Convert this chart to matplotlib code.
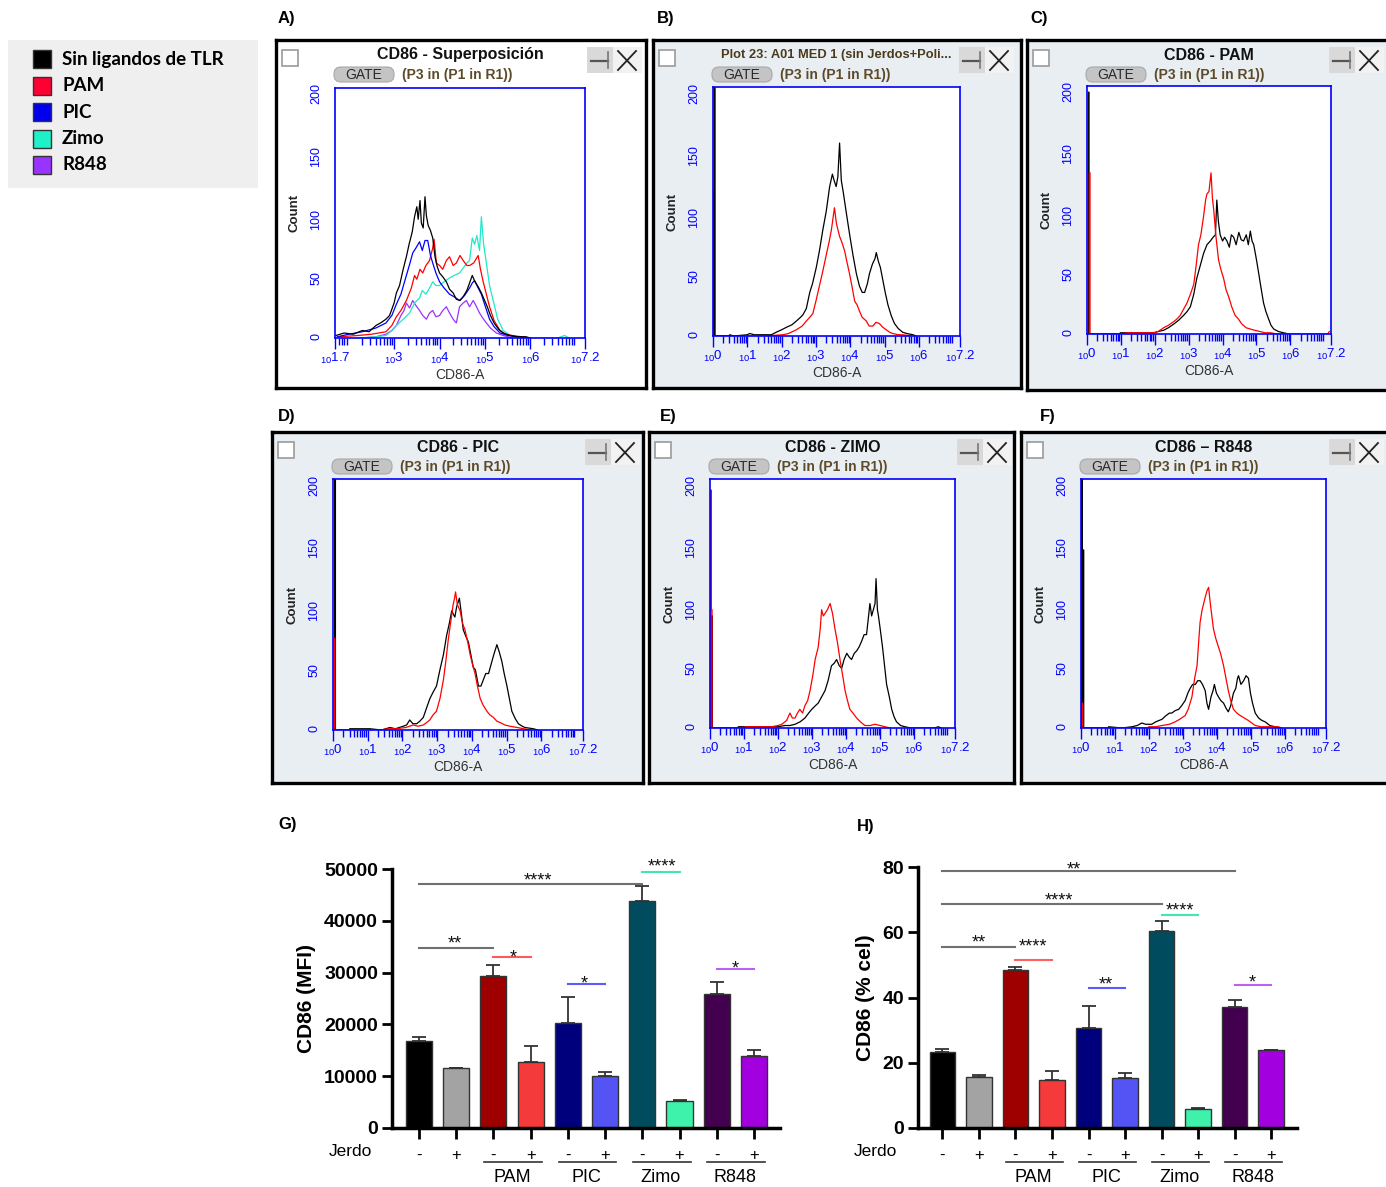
import numpy as np
import matplotlib
matplotlib.use('Agg')
import matplotlib.pyplot as plt
from matplotlib.patches import Rectangle, FancyBboxPatch
from matplotlib.ticker import LogLocator, NullFormatter
from matplotlib import transforms

plt.rcParams['font.family'] = ['Liberation Sans', 'DejaVu Sans']
plt.rcParams['mathtext.fontset'] = 'custom'
plt.rcParams['mathtext.rm'] = 'Liberation Sans'

W, H = 1386, 1187

# legend
legend_labels = ['Sin ligandos de TLR', 'PAM', 'PIC', 'Zimo', 'R848']
legend_colors = ['#000000', '#ff0033', '#0000ee', '#1ef0c8', '#9933ff']

# histograms, (log10 CD86-A, count)
a_black = [(1.72, 2), (1.9, 4), (2.1, 3), (2.3, 6), (2.45, 5), (2.6, 10), (2.7, 12), (2.82, 15), (2.9, 18), (3.0, 28),
           (3.05, 36), (3.12, 42), (3.2, 55), (3.27, 65), (3.33, 75), (3.4, 85), (3.45, 97), (3.5, 105), (3.53, 95), (3.57, 110),
           (3.6, 92), (3.64, 88), (3.68, 113), (3.71, 98), (3.75, 90), (3.8, 86), (3.85, 80), (3.9, 65), (3.95, 57), (4.0, 52),
           (4.07, 49), (4.15, 45), (4.22, 39), (4.3, 36), (4.37, 31), (4.45, 30), (4.52, 33), (4.6, 38), (4.66, 44), (4.72, 50),
           (4.78, 45), (4.85, 41), (4.92, 36), (4.98, 31), (5.05, 25), (5.12, 18), (5.2, 12), (5.3, 7), (5.4, 4), (5.55, 2),
           (5.7, 1), (5.9, 1), (6.0, 0)]
a_blue = [(1.75, 1), (2.0, 3), (2.3, 5), (2.6, 8), (2.82, 12), (2.95, 18), (3.05, 27), (3.15, 35), (3.27, 50), (3.35, 60),
          (3.41, 68), (3.48, 72), (3.56, 77), (3.62, 70), (3.68, 78), (3.74, 78), (3.8, 66), (3.85, 60), (3.92, 52), (4.0, 45),
          (4.1, 40), (4.22, 35), (4.32, 33), (4.44, 30), (4.55, 34), (4.66, 40), (4.72, 44), (4.77, 46), (4.85, 40), (4.92, 35),
          (5.0, 26), (5.1, 15), (5.2, 9), (5.33, 4), (5.5, 2), (5.7, 1), (5.9, 0)]
a_red = [(1.8, 1), (2.2, 2), (2.5, 3), (2.82, 5), (2.95, 10), (3.05, 17), (3.15, 22), (3.27, 30), (3.38, 40), (3.45, 50),
         (3.5, 47), (3.57, 55), (3.63, 52), (3.7, 58), (3.78, 62), (3.85, 72), (3.88, 79), (3.93, 60), (4.0, 58), (4.07, 55),
         (4.15, 62), (4.22, 65), (4.3, 58), (4.37, 60), (4.45, 66), (4.52, 62), (4.6, 58), (4.66, 58), (4.75, 60), (4.85, 66),
         (4.9, 55), (4.96, 45), (5.03, 35), (5.1, 25), (5.2, 14), (5.33, 6), (5.45, 3), (5.6, 2), (5.8, 1), (6.0, 0)]
a_cyan = [(2.2, 0), (2.6, 1), (2.82, 2), (2.95, 6), (3.05, 10), (3.2, 15), (3.34, 20), (3.45, 28), (3.56, 32), (3.62, 38),
          (3.7, 35), (3.78, 40), (3.85, 45), (3.92, 42), (4.0, 42), (4.1, 45), (4.22, 48), (4.32, 50), (4.44, 52), (4.52, 56),
          (4.6, 60), (4.66, 62), (4.72, 80), (4.77, 75), (4.82, 82), (4.88, 70), (4.92, 97), (4.97, 75), (5.03, 60), (5.1, 42),
          (5.18, 30), (5.28, 15), (5.4, 6), (5.52, 3), (5.62, 1), (5.9, 0), (6.6, 0), (6.75, 2), (6.85, 0)]
a_purple = [(2.3, 0), (2.6, 1), (2.82, 3), (2.95, 6), (3.05, 10), (3.15, 18), (3.22, 22), (3.27, 28), (3.34, 24), (3.41, 30),
            (3.48, 26), (3.56, 22), (3.63, 18), (3.71, 15), (3.78, 20), (3.85, 22), (3.92, 17), (4.0, 18), (4.07, 22), (4.15, 25),
            (4.22, 20), (4.3, 15), (4.37, 12), (4.44, 25), (4.52, 28), (4.59, 30), (4.66, 25), (4.74, 30), (4.8, 26), (4.88, 20),
            (4.95, 16), (5.03, 12), (5.12, 8), (5.25, 4), (5.4, 2), (5.6, 0)]

b_black = [(0.03, 0), (0.03, 200), (0.06, 200), (0.06, 0), (0.45, 0), (0.49, 1), (0.6, 0), (1.0, 1), (1.07, 2), (1.2, 1),
           (1.55, 1), (1.7, 1), (1.84, 3), (2.0, 5), (2.14, 7), (2.3, 9), (2.43, 12), (2.55, 15), (2.62, 17), (2.72, 22),
           (2.82, 35), (2.9, 42), (3.01, 55), (3.1, 68), (3.2, 85), (3.3, 100), (3.4, 120), (3.48, 130), (3.53, 125), (3.59, 120),
           (3.64, 128), (3.69, 155), (3.74, 125), (3.8, 115), (3.88, 100), (3.98, 82), (4.08, 65), (4.18, 50), (4.27, 40), (4.35, 35),
           (4.42, 35), (4.5, 42), (4.56, 50), (4.65, 58), (4.72, 62), (4.76, 67), (4.82, 60), (4.88, 55), (4.95, 45), (5.02, 35),
           (5.1, 25), (5.2, 16), (5.29, 10), (5.4, 6), (5.53, 3), (5.65, 2), (5.83, 1), (5.92, 0)]
b_red = [(0.02, 0), (0.02, 117), (0.04, 117), (0.04, 0), (1.5, 0), (2.04, 1), (2.2, 2), (2.43, 5), (2.6, 8), (2.72, 12),
         (2.82, 15), (2.91, 18), (3.0, 28), (3.1, 40), (3.2, 52), (3.3, 65), (3.38, 75), (3.45, 85), (3.5, 95), (3.54, 103),
         (3.6, 90), (3.69, 80), (3.76, 75), (3.84, 68), (3.9, 60), (3.98, 50), (4.05, 40), (4.13, 28), (4.2, 25), (4.27, 20),
         (4.35, 15), (4.47, 12), (4.55, 8), (4.66, 8), (4.75, 11), (4.85, 10), (4.95, 7), (5.05, 5), (5.15, 3), (5.24, 2),
         (5.4, 1), (5.53, 1), (5.8, 0)]

c_black = [(0.04, 0), (0.04, 195), (0.06, 195), (0.06, 0), (0.98, 0), (0.98, 1), (1.5, 1), (1.97, 1), (2.1, 2), (2.26, 3),
           (2.4, 5), (2.56, 8), (2.7, 11), (2.85, 15), (2.95, 18), (3.05, 22), (3.15, 32), (3.24, 45), (3.34, 55), (3.44, 65),
           (3.54, 72), (3.64, 75), (3.72, 78), (3.79, 80), (3.83, 108), (3.88, 90), (3.93, 80), (4.0, 75), (4.06, 78), (4.13, 75),
           (4.2, 70), (4.26, 80), (4.33, 78), (4.4, 72), (4.48, 82), (4.55, 76), (4.62, 75), (4.7, 80), (4.76, 72), (4.82, 83),
           (4.87, 75), (4.92, 72), (5.0, 60), (5.06, 50), (5.13, 38), (5.21, 25), (5.28, 18), (5.36, 12), (5.43, 7), (5.51, 4),
           (5.65, 2), (5.8, 1), (5.95, 0)]
c_red = [(0.07, 0), (0.07, 130), (0.09, 130), (0.09, 0), (1.0, 0), (1.2, 1), (1.97, 1), (2.1, 2), (2.26, 5), (2.4, 7),
         (2.56, 10), (2.65, 12), (2.75, 15), (2.85, 20), (2.95, 25), (3.05, 32), (3.15, 40), (3.22, 55), (3.29, 72), (3.36, 80),
         (3.44, 95), (3.5, 108), (3.54, 113), (3.6, 115), (3.66, 130), (3.7, 110), (3.74, 100), (3.8, 80), (3.88, 60), (3.95, 52),
         (4.03, 45), (4.1, 36), (4.18, 30), (4.27, 22), (4.37, 15), (4.47, 12), (4.57, 8), (4.7, 5), (4.82, 4), (4.95, 3),
         (5.11, 2), (5.25, 1), (5.41, 1), (5.6, 0), (7.1, 0), (7.15, 2)]

d_black = [(0.05, 0), (0.05, 200), (0.07, 200), (0.07, 0), (0.48, 0), (0.48, 1), (0.8, 1), (1.06, 1), (1.4, 0), (1.64, 2),
           (1.8, 1), (2.02, 3), (2.12, 4), (2.21, 8), (2.3, 5), (2.41, 5), (2.5, 7), (2.6, 10), (2.7, 18), (2.79, 25),
           (2.88, 30), (2.98, 35), (3.08, 48), (3.18, 60), (3.27, 75), (3.35, 85), (3.42, 95), (3.47, 92), (3.51, 90), (3.56, 98),
           (3.64, 105), (3.7, 92), (3.75, 80), (3.82, 75), (3.9, 70), (3.97, 60), (4.04, 50), (4.1, 48), (4.19, 35), (4.26, 35),
           (4.33, 40), (4.4, 45), (4.48, 45), (4.55, 52), (4.63, 60), (4.72, 68), (4.79, 62), (4.86, 55), (4.93, 45), (5.01, 35),
           (5.08, 25), (5.15, 15), (5.25, 9), (5.34, 5), (5.45, 3), (5.53, 2), (5.77, 1), (5.9, 0)]
d_red = [(0.03, 0), (0.03, 73), (0.05, 73), (0.05, 0), (1.35, 0), (1.6, 1), (1.83, 1), (2.1, 2), (2.31, 4), (2.45, 3),
         (2.6, 4), (2.7, 6), (2.79, 8), (2.88, 12), (2.98, 15), (3.08, 25), (3.18, 40), (3.25, 55), (3.32, 72), (3.4, 88),
         (3.46, 100), (3.5, 105), (3.53, 110), (3.58, 100), (3.66, 95), (3.73, 85), (3.8, 80), (3.88, 70), (3.95, 60), (4.02, 52),
         (4.09, 45), (4.16, 35), (4.24, 25), (4.32, 20), (4.43, 15), (4.52, 12), (4.62, 10), (4.72, 7), (4.81, 6), (4.95, 4),
         (5.1, 3), (5.3, 2), (5.49, 1), (5.7, 0)]

e_red = [(0.02, 0), (0.02, 191), (0.04, 191), (0.04, 95), (0.06, 95), (0.06, 0), (1.03, 0), (1.03, 1), (1.5, 1), (1.81, 1),
         (2.0, 2), (2.11, 3), (2.25, 6), (2.35, 12), (2.42, 8), (2.5, 8), (2.57, 12), (2.64, 15), (2.72, 12), (2.79, 18),
         (2.87, 22), (2.94, 30), (3.02, 42), (3.09, 55), (3.18, 65), (3.24, 80), (3.28, 95), (3.33, 90), (3.38, 92), (3.45, 95),
         (3.53, 100), (3.6, 92), (3.67, 80), (3.75, 68), (3.82, 55), (3.9, 42), (3.97, 30), (4.04, 22), (4.11, 15), (4.2, 12),
         (4.31, 8), (4.42, 5), (4.55, 2), (4.7, 2), (4.85, 3), (5.0, 2), (5.14, 1), (5.3, 0)]
e_black = [(0.05, 0), (0.05, 90), (0.07, 90), (0.07, 0), (0.83, 0), (0.83, 1), (1.3, 1), (1.81, 1), (2.0, 1), (2.2, 2),
           (2.35, 2), (2.5, 3), (2.65, 5), (2.79, 8), (2.9, 12), (2.99, 15), (3.1, 18), (3.18, 20), (3.28, 25), (3.38, 30),
           (3.47, 38), (3.57, 50), (3.65, 52), (3.72, 55), (3.8, 50), (3.87, 48), (3.94, 55), (4.02, 60), (4.09, 57), (4.16, 55),
           (4.24, 60), (4.31, 62), (4.38, 65), (4.46, 70), (4.53, 75), (4.6, 75), (4.66, 90), (4.7, 100), (4.75, 90), (4.8, 95),
           (4.85, 100), (4.88, 120), (4.92, 95), (4.95, 90), (5.0, 80), (5.07, 65), (5.13, 50), (5.19, 35), (5.27, 25), (5.34, 15),
           (5.41, 9), (5.48, 5), (5.6, 2), (5.73, 1), (5.9, 0), (6.6, 0), (6.71, 1), (6.8, 0)]

f_black = [(0.02, 0), (0.02, 200), (0.04, 200), (0.04, 0), (0.06, 0), (0.06, 143), (0.08, 143), (0.08, 0), (0.81, 0), (0.81, 1),
           (1.2, 0), (1.5, 1), (1.65, 2), (1.79, 4), (1.9, 3), (2.08, 3), (2.2, 5), (2.38, 7), (2.5, 10), (2.6, 12),
           (2.67, 12), (2.77, 14), (2.87, 15), (2.96, 18), (3.06, 22), (3.14, 28), (3.21, 32), (3.28, 35), (3.36, 35), (3.43, 38),
           (3.5, 38), (3.57, 35), (3.65, 30), (3.7, 20), (3.75, 15), (3.82, 25), (3.88, 30), (3.92, 35), (3.98, 28), (4.04, 25),
           (4.11, 22), (4.19, 20), (4.26, 16), (4.33, 13), (4.4, 18), (4.48, 28), (4.55, 32), (4.6, 40), (4.63, 42), (4.7, 35),
           (4.78, 38), (4.85, 42), (4.92, 40), (4.98, 28), (5.04, 20), (5.12, 12), (5.22, 8), (5.32, 6), (5.41, 5), (5.55, 2),
           (5.7, 1), (5.85, 0)]
f_red = [(0.03, 0), (0.03, 20), (0.05, 20), (0.05, 0), (1.99, 0), (1.99, 1), (2.2, 1), (2.38, 2), (2.6, 3), (2.77, 5),
         (2.9, 7), (3.06, 10), (3.15, 15), (3.26, 25), (3.34, 40), (3.41, 50), (3.46, 70), (3.5, 85), (3.56, 95), (3.65, 105),
         (3.7, 110), (3.75, 113), (3.8, 100), (3.89, 80), (3.96, 72), (4.04, 65), (4.1, 60), (4.19, 50), (4.26, 40), (4.33, 30),
         (4.4, 22), (4.48, 15), (4.58, 12), (4.68, 10), (4.8, 8), (4.92, 6), (5.02, 4), (5.12, 2), (5.3, 1), (5.5, 1),
         (5.8, 1), (5.9, 0)]

# bar charts
jerdo = ['-', '+', '-', '+', '-', '+', '-', '+', '-', '+']
groups = ['PAM', 'PIC', 'Zimo', 'R848']
bar_colors = ['#000000', '#a3a3a3', '#9e0000', '#f43a3a', '#00007d',
              '#5454f4', '#004c5e', '#3ff2ac', '#43004f', '#a300df']
mfi_mean = [16800, 11500, 29400, 12700, 20300, 10100, 43900, 5200, 25900, 13900]
mfi_sem = [800, 80, 2000, 3200, 4900, 800, 2800, 150, 2300, 1200]
pct_mean = [23.3, 15.6, 48.4, 14.8, 30.8, 15.3, 60.3, 5.8, 37.2, 23.9]
pct_sem = [0.9, 0.5, 0.9, 2.6, 6.7, 1.6, 3.3, 0.3, 2.0, 0.0]

# significance: (bar i, bar j, line y, text x, text y, stars, colour)
mfi_sig = [(0, 6, 47100, 3.2, 47700, '****', '#707070'),
           (0, 2, 34800, 0.97, 35500, '**', '#707070'),
           (2, 3, 33070, 2.53, 32900, '*', '#ff5a5a'),
           (4, 5, 27860, 4.44, 27800, '*', '#5a5aff'),
           (6, 7, 49360, 6.53, 50300, '****', '#40e8b0'),
           (8, 9, 30760, 8.51, 30700, '*', '#c060f0')]
pct_sig = [(0, 8, 78.76, 3.6, 79.2, '**', '#707070'),
           (0, 6, 68.7, 3.19, 69.7, '****', '#707070'),
           (0, 2, 55.6, 1.0, 56.6, '**', '#707070'),
           (2, 3, 51.55, 2.48, 55.6, '****', '#ff6060'),
           (4, 5, 42.96, 4.48, 43.8, '**', '#5a5aff'),
           (6, 7, 65.15, 6.5, 66.4, '****', '#40e8b0'),
           (8, 9, 43.9, 8.49, 44.6, '*', '#c060f0')]


def px_box(x0, y0, x1, y1):
    return [x0 / W, 1 - y1 / H, (x1 - x0) / W, (y1 - y0) / H]


fig = plt.figure(figsize=(W / 100, H / 100), dpi=100)
canvas = fig.add_axes([0, 0, 1, 1])
canvas.set_xlim(0, W)
canvas.set_ylim(H, 0)
canvas.axis('off')

# legend box
canvas.add_patch(Rectangle((8, 40), 250, 148, facecolor='#efefef', edgecolor='none'))
for k, (lab, col) in enumerate(zip(legend_labels, legend_colors)):
    yc = 59 + k * 26.5
    canvas.add_patch(Rectangle((33, yc - 9), 18, 18, facecolor=col, edgecolor='#333333', lw=1))
    canvas.text(62, yc, lab, fontsize=13.5, fontweight='bold', family=['Lato', 'DejaVu Sans'],
                va='center', ha='left')

panels = [
    dict(letter='A)', lpos=(278, 18), frame=(276, 40, 646, 388), inner=(335, 88, 585, 338), btn=642,
         bg='white', title='CD86 - Superposición', xmin=1.7, majors=[1.7, 3, 4, 5, 6, 7.2],
         curves=[(a_purple, '#9933ff'), (a_cyan, '#20e8c8'), (a_red, '#ff0000'), (a_blue, '#0000ff'), (a_black, 'black')]),
    dict(letter='B)', lpos=(657, 18), frame=(653, 40, 1021, 388), inner=(713, 87, 960, 336), btn=1014,
         bg='#e9eef2', title='Plot 23: A01 MED 1 (sin Jerdos+Poli...', xmin=0, majors=[0, 1, 2, 3, 4, 5, 6, 7.2],
         curves=[(b_red, '#ff0000'), (b_black, 'black')]),
    dict(letter='C)', lpos=(1030, 18), frame=(1027, 40, 1392, 390), inner=(1087, 86, 1331, 334), btn=1384,
         bg='#e9eef2', title='CD86 - PAM', xmin=0, majors=[0, 1, 2, 3, 4, 5, 6, 7.2],
         curves=[(c_black, 'black'), (c_red, '#ff0000')]),
    dict(letter='D)', lpos=(278, 416), frame=(272, 432, 643, 783), inner=(333, 479, 583, 730), btn=640,
         bg='#e9eef2', title='CD86 - PIC', xmin=0, majors=[0, 1, 2, 3, 4, 5, 6, 7.2],
         curves=[(d_black, 'black'), (d_red, '#ff0000')]),
    dict(letter='E)', lpos=(660, 416), frame=(649, 432, 1014, 783), inner=(710, 479, 955, 728), btn=1012,
         bg='#e9eef2', title='CD86 - ZIMO', xmin=0, majors=[0, 1, 2, 3, 4, 5, 6, 7.2],
         curves=[(e_black, 'black'), (e_red, '#ff0000')]),
    dict(letter='F)', lpos=(1040, 416), frame=(1021, 432, 1392, 783), inner=(1081, 479, 1326, 728), btn=1384,
         bg='#e9eef2', title='CD86 \u2013 R848', xmin=0, majors=[0, 1, 2, 3, 4, 5, 6, 7.2],
         curves=[(f_black, 'black'), (f_red, '#ff0000')]),
]

for p in panels:
    canvas.text(p['lpos'][0], p['lpos'][1], p['letter'], fontsize=12, fontweight='bold', va='center', ha='left')
    fx0, fy0, fx1, fy1 = p['frame']
    fw, fh = fx1 - fx0, fy1 - fy0
    win = fig.add_axes(px_box(*p['frame']))
    win.set_xlim(0, fw)
    win.set_ylim(fh, 0)
    win.set_facecolor(p['bg'])
    win.set_xticks([])
    win.set_yticks([])
    for sp in win.spines.values():
        sp.set_linewidth(2.4)
        sp.set_color('black')
    ix0, iy0, ix1, iy1 = p['inner']
    rx0, rx1 = ix0 - fx0, ix1 - fx0
    # window chrome
    win.add_patch(Rectangle((6, 10), 16, 16, facecolor='white', edgecolor='#9a9a9a', lw=1.2))
    if p['letter'] == 'B)':
        win.text((rx0 + rx1) / 2, 15, p['title'], ha='center', va='center', fontsize=9.3,
                 fontweight='bold', color='#4a3a1a')
    else:
        win.text((rx0 + rx1) / 2, 15, p['title'], ha='center', va='center', fontsize=11.5,
                 fontweight='bold', color='#111111')
    win.add_patch(FancyBboxPatch((rx0 - 1, 27), 60, 15, boxstyle='round,pad=0,rounding_size=7',
                                 facecolor='#c4c4c4', edgecolor='#a8a8a8', lw=0.8))
    win.text(rx0 + 29, 35, 'GATE', ha='center', va='center', fontsize=10, color='#2a2a2a')
    win.text(rx0 + 67, 34.5, '(P3 in (P1 in R1))', ha='left', va='center', fontsize=10,
             fontweight='bold', color='#5c4a28')
    bx = p['btn'] - fx0
    win.add_patch(Rectangle((bx - 55, 7), 26, 26, facecolor='#d9d9d9', edgecolor='none'))
    win.plot([bx - 51, bx - 34], [21, 21], color='#555555', lw=1.6)
    win.plot([bx - 34, bx - 34], [12, 28], color='#777777', lw=1.2)
    win.add_patch(Rectangle((bx - 29, 7), 29, 26, facecolor='#f2f2f2', edgecolor='none'))
    win.plot([bx - 24, bx - 6], [11, 30], color='#222222', lw=1.3)
    win.plot([bx - 24, bx - 6], [30, 11], color='#222222', lw=1.3)

    # histogram
    iw, ih = ix1 - ix0, iy1 - iy0
    ax = fig.add_axes(px_box(*p['inner']))
    ax.set_facecolor('white')
    for data, col in p['curves']:
        ex, cnt = zip(*data)
        ax.plot(np.power(10.0, ex), cnt, color=col, lw=0.9)
    ax.set_xscale('log')
    ax.set_xlim(10 ** p['xmin'], 10 ** 7.2)
    ax.set_ylim(0, 200)
    for sp in ax.spines.values():
        sp.set_color('#0000ff')
        sp.set_linewidth(1.2)
    ax.set_xticks([10.0 ** m for m in p['majors']])
    labels = []
    for m in p['majors']:
        if float(m).is_integer():
            labels.append(r'$_{\mathregular{10}}\mathregular{%d}$' % m)
        else:
            labels.append(r'$_{\mathregular{10}}\mathregular{%.1f}$' % m)
    ax.set_xticklabels(labels)
    ax.xaxis.set_minor_locator(LogLocator(base=10, subs=np.arange(2, 10), numticks=20))
    ax.xaxis.set_minor_formatter(NullFormatter())
    ax.tick_params(axis='x', which='major', length=8, width=1, color='#0000ff', labelsize=9.5,
                   labelcolor='#0000ff', pad=1)
    ax.tick_params(axis='x', which='minor', length=5, width=1, color='#0000ff')
    ax.set_yticks([0, 50, 100, 150, 200])
    ax.tick_params(axis='y', length=0, labelsize=9, labelcolor='#0000ff', labelrotation=90, pad=9)
    ax.set_ylabel('Count', fontsize=9.5, fontweight='bold', color='#222222')
    ax.yaxis.set_label_coords(-35 / iw, 0.5)
    ax.set_xlabel('CD86-A', fontsize=10, color='#333333')
    ax.xaxis.set_label_coords(0.5, -30 / ih)


def bar_panel(rect, means, sems, top, step, ylabel, ylab_x, sig, xl, letter, lpos):
    canvas.text(lpos[0], lpos[1], letter, fontsize=12, fontweight='bold', va='center', ha='left')
    ax = fig.add_axes(px_box(*rect))
    x = np.arange(len(means))
    ax.bar(x, means, width=0.7, color=bar_colors, edgecolor='#333333', lw=1, zorder=2)
    ax.errorbar(x, means, yerr=[np.zeros(len(sems)), sems], fmt='none', ecolor='#333333',
                elinewidth=1.3, capsize=5, capthick=1.3, zorder=1)
    ax.set_xlim(*xl)
    ax.set_ylim(0, top)
    ax.set_yticks(np.arange(0, top + step / 2, step))
    for s in ['top', 'right']:
        ax.spines[s].set_visible(False)
    for s in ['left', 'bottom']:
        ax.spines[s].set_linewidth(2.5)
    ax.set_xticks(x)
    ax.set_xticklabels(jerdo, fontsize=12)
    ax.tick_params(axis='x', length=8, width=2, pad=6.5)
    ax.tick_params(axis='y', length=7, width=2, labelsize=14, pad=3)
    for lbl in ax.get_yticklabels():
        lbl.set_fontweight('bold')
    ax.set_ylabel(ylabel, fontsize=15, fontweight='bold')
    ax.yaxis.set_label_coords(ylab_x, 0.5)
    trans = transforms.blended_transform_factory(ax.transData, canvas.transData)
    ax.text(-1.25, 1152, 'Jerdo', transform=trans, ha='right', va='center', fontsize=12.5)
    for g, name in enumerate(groups):
        c = 2 * g + 2
        ax.plot([c - 0.25, c + 1.3], [1162, 1162], transform=trans, color='#333333', lw=1.2, clip_on=False)
        ax.text(c + 0.5, 1178, name, transform=trans, ha='center', va='center', fontsize=13)
    for i, j, yl, tx, ty, stars, col in sig:
        ax.plot([i, j], [yl, yl], color=col, lw=1.5, clip_on=False)
        ax.text(tx, ty, stars, ha='center', va='center', fontsize=13, color='#111111', clip_on=False)
    return ax


bar_panel((392, 869, 780, 1128), mfi_mean, mfi_sem, 50000, 10000, 'CD86 (MFI)', -76 / 388,
          mfi_sig, (-0.726, 9.70), 'G)', (278, 825))
bar_panel((918, 867, 1297, 1128), pct_mean, pct_sem, 80, 20, 'CD86 (% cel)', -43 / 379,
          pct_sig, (-0.67, 9.71), 'H)', (857, 826))

fig.savefig('out.png', dpi=100)
